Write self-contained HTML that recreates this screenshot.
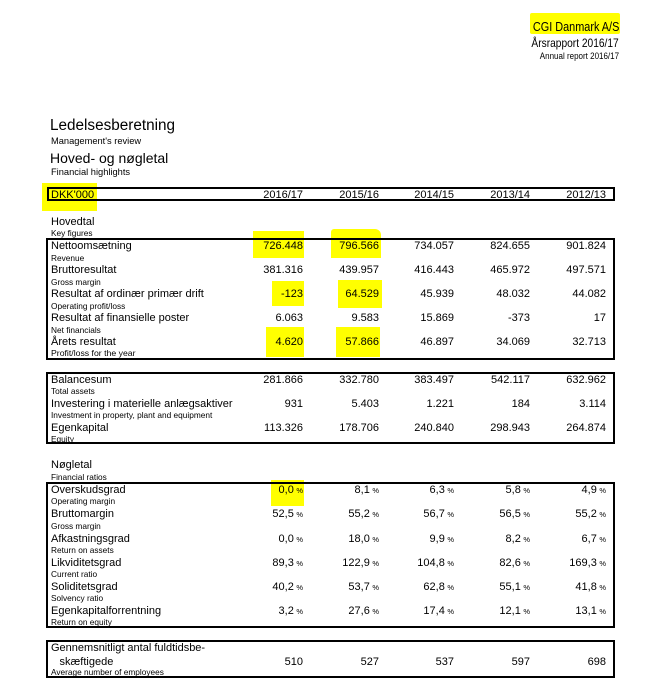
<!DOCTYPE html>
<html>
<head>
<meta charset="utf-8">
<style>
html,body{margin:0;padding:0;background:#fff;}
body{width:669px;height:689px;position:relative;overflow:hidden;font-family:"Liberation Sans",Arial,sans-serif;color:#000;}
.t{position:absolute;line-height:1;white-space:nowrap;}
.hl{position:absolute;background:#ffff00;}
.box{position:absolute;border:2px solid #000;box-sizing:border-box;}
.row{position:absolute;left:0;width:669px;height:0;}
.row > span{position:absolute;line-height:1;white-space:nowrap;top:0;}
.row .l{left:51px;font-size:11px;}
.row .s{left:51px;top:12.2px;font-size:8.3px;}
.row .v{font-size:11px;}
.c1{right:366px;} .c2{right:290px;} .c3{right:215px;} .c4{right:139px;} .c5{right:63px;}
.p{font-size:7.5px;margin-left:2.5px;}
.yr{font-size:10.3px;}
</style>
</head>
<body>

<!-- highlights -->
<div class="hl" style="left:530px;top:13px;width:90px;height:21px;border-radius:2px;"></div>
<div class="hl" style="left:42px;top:183px;width:55px;height:28px;"></div>
<div class="hl" style="left:253px;top:231px;width:51px;height:27px;"></div>
<div class="hl" style="left:331px;top:229px;width:50px;height:29px;border-radius:3px 6px 0 0;"></div>
<div class="hl" style="left:272px;top:281px;width:32px;height:25px;"></div>
<div class="hl" style="left:338px;top:280px;width:44px;height:28px;"></div>
<div class="hl" style="left:266px;top:327px;width:38px;height:30px;"></div>
<div class="hl" style="left:336px;top:327px;width:44px;height:30px;"></div>
<div class="hl" style="left:271px;top:480px;width:33px;height:26px;"></div>

<!-- top right header -->
<div class="t" style="right:50px;top:21.4px;font-size:12.5px;transform:scaleX(0.87);transform-origin:right center;">CGI Danmark A/S</div>
<div class="t" style="right:50px;top:37px;font-size:12px;transform:scaleX(0.85);transform-origin:right center;">Årsrapport 2016/17</div>
<div class="t" style="right:50px;top:51.5px;font-size:9px;transform:scaleX(0.89);transform-origin:right center;">Annual report 2016/17</div>

<!-- titles -->
<div class="t" style="left:50px;top:118px;font-size:15.3px;">Ledelsesberetning</div>
<div class="t" style="left:51px;top:136.6px;font-size:9.3px;">Management's review</div>
<div class="t" style="left:50px;top:151.4px;font-size:14px;">Hoved- og nøgletal</div>
<div class="t" style="left:51px;top:167.9px;font-size:9.3px;">Financial highlights</div>

<!-- header box -->
<div class="box" style="left:47px;top:187px;width:568px;height:14px;"></div>
<div class="row" style="top:189.8px;">
  <span class="l yr">DKK'000</span>
  <span class="v yr c1">2016/17</span>
  <span class="v yr c2">2015/16</span>
  <span class="v yr c3">2014/15</span>
  <span class="v yr c4">2013/14</span>
  <span class="v yr c5">2012/13</span>
</div>

<!-- Hovedtal -->
<div class="t" style="left:51px;top:216.8px;font-size:11px;">Hovedtal</div>
<div class="t" style="left:51px;top:228.7px;font-size:8.3px;">Key figures</div>

<div class="box" style="left:46px;top:238px;width:569px;height:122px;"></div>
<div class="row" style="top:241.4px;">
  <span class="l">Nettoomsætning</span><span class="s">Revenue</span>
  <span class="v c1">726.448</span><span class="v c2">796.566</span><span class="v c3">734.057</span><span class="v c4">824.655</span><span class="v c5">901.824</span>
</div>
<div class="row" style="top:265.4px;">
  <span class="l">Bruttoresultat</span><span class="s">Gross margin</span>
  <span class="v c1">381.316</span><span class="v c2">439.957</span><span class="v c3">416.443</span><span class="v c4">465.972</span><span class="v c5">497.571</span>
</div>
<div class="row" style="top:289.4px;">
  <span class="l">Resultat af ordinær primær drift</span><span class="s">Operating profit/loss</span>
  <span class="v c1">-123</span><span class="v c2">64.529</span><span class="v c3">45.939</span><span class="v c4">48.032</span><span class="v c5">44.082</span>
</div>
<div class="row" style="top:313.4px;">
  <span class="l">Resultat af finansielle poster</span><span class="s">Net financials</span>
  <span class="v c1">6.063</span><span class="v c2">9.583</span><span class="v c3">15.869</span><span class="v c4">-373</span><span class="v c5">17</span>
</div>
<div class="row" style="top:337.4px;">
  <span class="l">Årets resultat</span><span class="s" style="font-size:8.7px;top:11.8px;">Profit/loss for the year</span>
  <span class="v c1">4.620</span><span class="v c2">57.866</span><span class="v c3">46.897</span><span class="v c4">34.069</span><span class="v c5">32.713</span>
</div>

<!-- Balance box -->
<div class="box" style="left:46px;top:372px;width:569px;height:72px;"></div>
<div class="row" style="top:375px;">
  <span class="l">Balancesum</span><span class="s">Total assets</span>
  <span class="v c1">281.866</span><span class="v c2">332.780</span><span class="v c3">383.497</span><span class="v c4">542.117</span><span class="v c5">632.962</span>
</div>
<div class="row" style="top:399px;">
  <span class="l">Investering i materielle anlægsaktiver</span><span class="s">Investment in property, plant and equipment</span>
  <span class="v c1">931</span><span class="v c2">5.403</span><span class="v c3">1.221</span><span class="v c4">184</span><span class="v c5">3.114</span>
</div>
<div class="row" style="top:423px;">
  <span class="l">Egenkapital</span><span class="s">Equity</span>
  <span class="v c1">113.326</span><span class="v c2">178.706</span><span class="v c3">240.840</span><span class="v c4">298.943</span><span class="v c5">264.874</span>
</div>

<!-- Nøgletal -->
<div class="t" style="left:51px;top:460px;font-size:11px;">Nøgletal</div>
<div class="t" style="left:51px;top:472.8px;font-size:8.3px;">Financial ratios</div>

<div class="box" style="left:46px;top:482px;width:569px;height:146px;"></div>
<div class="row" style="top:485.2px;">
  <span class="l">Overskudsgrad</span><span class="s">Operating margin</span>
  <span class="v c1">0,0<span class="p">%</span></span><span class="v c2">8,1<span class="p">%</span></span><span class="v c3">6,3<span class="p">%</span></span><span class="v c4">5,8<span class="p">%</span></span><span class="v c5">4,9<span class="p">%</span></span>
</div>
<div class="row" style="top:509.4px;">
  <span class="l">Bruttomargin</span><span class="s">Gross margin</span>
  <span class="v c1">52,5<span class="p">%</span></span><span class="v c2">55,2<span class="p">%</span></span><span class="v c3">56,7<span class="p">%</span></span><span class="v c4">56,5<span class="p">%</span></span><span class="v c5">55,2<span class="p">%</span></span>
</div>
<div class="row" style="top:533.6px;">
  <span class="l">Afkastningsgrad</span><span class="s">Return on assets</span>
  <span class="v c1">0,0<span class="p">%</span></span><span class="v c2">18,0<span class="p">%</span></span><span class="v c3">9,9<span class="p">%</span></span><span class="v c4">8,2<span class="p">%</span></span><span class="v c5">6,7<span class="p">%</span></span>
</div>
<div class="row" style="top:557.6px;">
  <span class="l">Likviditetsgrad</span><span class="s">Current ratio</span>
  <span class="v c1">89,3<span class="p">%</span></span><span class="v c2">122,9<span class="p">%</span></span><span class="v c3">104,8<span class="p">%</span></span><span class="v c4">82,6<span class="p">%</span></span><span class="v c5">169,3<span class="p">%</span></span>
</div>
<div class="row" style="top:581.6px;">
  <span class="l">Soliditetsgrad</span><span class="s">Solvency ratio</span>
  <span class="v c1">40,2<span class="p">%</span></span><span class="v c2">53,7<span class="p">%</span></span><span class="v c3">62,8<span class="p">%</span></span><span class="v c4">55,1<span class="p">%</span></span><span class="v c5">41,8<span class="p">%</span></span>
</div>
<div class="row" style="top:605.6px;">
  <span class="l">Egenkapitalforrentning</span><span class="s">Return on equity</span>
  <span class="v c1">3,2<span class="p">%</span></span><span class="v c2">27,6<span class="p">%</span></span><span class="v c3">17,4<span class="p">%</span></span><span class="v c4">12,1<span class="p">%</span></span><span class="v c5">13,1<span class="p">%</span></span>
</div>

<!-- Employees box -->
<div class="box" style="left:46px;top:640px;width:569px;height:38px;"></div>
<div class="t" style="left:51px;top:643.4px;font-size:11px;">Gennemsnitligt antal fuldtidsbe-</div>
<div class="t" style="left:59.5px;top:656.9px;font-size:11px;">skæftigede</div>
<div class="t" style="left:51px;top:667.8px;font-size:8.3px;">Average number of employees</div>
<div class="row" style="top:656.9px;">
  <span class="v c1">510</span><span class="v c2">527</span><span class="v c3">537</span><span class="v c4">597</span><span class="v c5">698</span>
</div>

</body>
</html>
